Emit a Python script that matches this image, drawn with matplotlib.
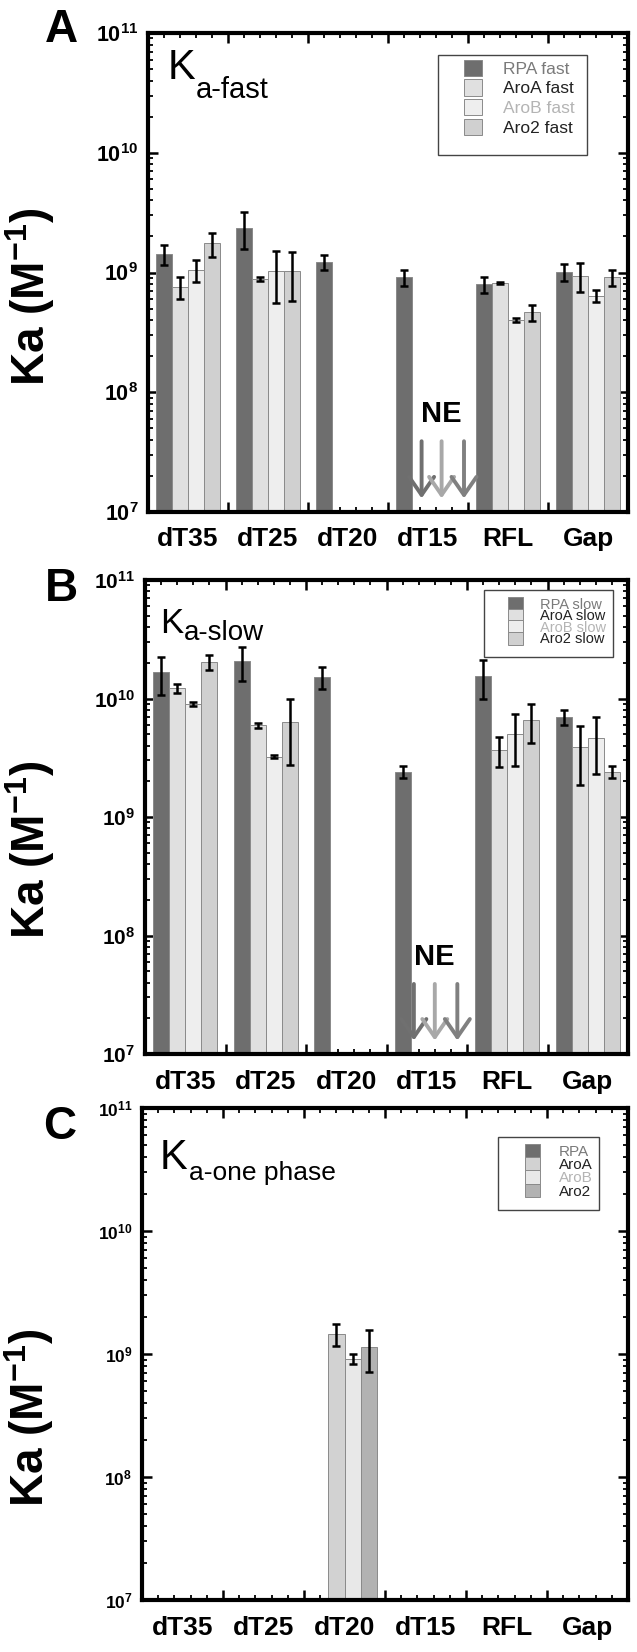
import numpy as np
import matplotlib
matplotlib.use('Agg')
import matplotlib.pyplot as plt
from matplotlib import ticker
from matplotlib.patches import Rectangle

plt.rcParams['font.family'] = ['Liberation Sans', 'DejaVu Sans']
plt.rcParams['mathtext.fontset'] = 'custom'
plt.rcParams['mathtext.rm'] = 'Liberation Sans'
plt.rcParams['mathtext.bf'] = 'Liberation Sans:bold'
plt.rcParams['mathtext.it'] = 'Liberation Sans:italic'

nan = np.nan
groups = ['dT35', 'dT25', 'dT20', 'dT15', 'RFL', 'Gap']
decades = [1e7, 1e8, 1e9, 1e10, 1e11]
decade_labels = [r'$\mathbf{10^{7}}$', r'$\mathbf{10^{8}}$', r'$\mathbf{10^{9}}$',
                 r'$\mathbf{10^{10}}$', r'$\mathbf{10^{11}}$']

# panel A (x 1e9 M^-1)
rpa_fast = [1.43, 2.37, 1.22, 0.91, 0.80, 1.01]
rpa_fast_err = [0.27, 0.80, 0.17, 0.14, 0.12, 0.16]
aroa_fast = [0.76, 0.88, nan, nan, 0.82, 0.94]
aroa_fast_err = [0.16, 0.03, nan, nan, 0.02, 0.25]
arob_fast = [1.05, 1.03, nan, nan, 0.40, 0.64]
arob_fast_err = [0.21, 0.47, nan, nan, 0.015, 0.07]
aro2_fast = [1.75, 1.03, nan, nan, 0.465, 0.91]
aro2_fast_err = [0.40, 0.45, nan, nan, 0.075, 0.14]

# panel B (x 1e10 M^-1)
rpa_slow = [1.66, 2.06, 1.52, 0.242, 1.55, 0.698]
rpa_slow_err = [0.58, 0.65, 0.31, 0.028, 0.55, 0.098]
aroa_slow = [1.22, 0.593, nan, nan, 0.368, 0.387]
aroa_slow_err = [0.10, 0.03, nan, nan, 0.103, 0.20]
arob_slow = [0.898, 0.323, nan, nan, 0.505, 0.465]
arob_slow_err = [0.03, 0.008, nan, nan, 0.235, 0.235]
aro2_slow = [2.03, 0.633, nan, nan, 0.658, 0.242]
aro2_slow_err = [0.29, 0.36, nan, nan, 0.24, 0.028]

# panel C (x 1e9 M^-1)
rpa_one = [nan, nan, nan, nan, nan, nan]
rpa_one_err = [nan, nan, nan, nan, nan, nan]
aroa_one = [nan, nan, 1.46, nan, nan, nan]
aroa_one_err = [nan, nan, 0.29, nan, nan, nan]
arob_one = [nan, nan, 0.916, nan, nan, nan]
arob_one_err = [nan, nan, 0.08, nan, nan, nan]
aro2_one = [nan, nan, 1.14, nan, nan, nan]
aro2_one_err = [nan, nan, 0.42, nan, nan, nan]

labels_fast = ['RPA fast', 'AroA fast', 'AroB fast', 'Aro2 fast']
labels_slow = ['RPA slow', 'AroA slow', 'AroB slow', 'Aro2 slow']
labels_one = ['RPA', 'AroA', 'AroB', 'Aro2']

# NE arrows (not estimable) at dT15
ne_arrow_tail = 3.9e7
ne_arrow_tip = 1.3e7
ne_text_y = 6.6e7

colors_ab = ['#6e6e6e', '#e0e0e0', '#eeeeee', '#d0d0d0']
colors_c = ['#6e6e6e', '#d2d2d2', '#e8e8e8', '#b2b2b2']
label_colors = ['#7a7a7a', '#222222', '#b4b4b4', '#222222']
arrow_colors = ['#707070', '#a8a8a8', '#808080']


def style_axes(ax, tick_fs, xlab_y):
    ax.set_yscale('log')
    ax.set_ylim(1e7, 1e11)
    ax.set_xlim(0, 6)
    ax.set_yticks(decades)
    ax.set_yticklabels(decade_labels)
    ax.yaxis.set_minor_locator(ticker.LogLocator(base=10, subs=np.arange(2, 10), numticks=20))
    ax.yaxis.set_minor_formatter(ticker.NullFormatter())
    ax.set_xticks(range(7))
    ax.set_xticklabels([])
    ax.xaxis.set_minor_locator(ticker.MultipleLocator(0.2))
    ax.tick_params(which='both', direction='in', top=True, right=True)
    ax.tick_params(which='major', length=7, width=1.8, labelsize=tick_fs, pad=7)
    ax.tick_params(which='minor', length=3.5, width=1.3)
    for s in ax.spines.values():
        s.set_linewidth(3)
    for i, g in enumerate(groups):
        ax.text(i + 0.5, xlab_y, g, transform=ax.get_xaxis_transform(),
                ha='center', va='center', fontsize=19, fontweight='bold')


def draw_bars(ax, series, errors, scale, colors):
    x = np.arange(len(groups))
    handles = []
    for k, (vals, errs) in enumerate(zip(series, errors)):
        vals = np.array(vals) * scale
        errs = np.array(errs) * scale
        pos = x + 0.2 + 0.2 * k
        b = ax.bar(pos, vals, width=0.2, color=colors[k], edgecolor='#8a8a8a',
                   linewidth=0.7, zorder=2)
        handles.append(b)
        ok = ~np.isnan(vals)
        if ok.any():
            ax.errorbar(pos[ok], vals[ok], yerr=errs[ok], fmt='none', ecolor='black',
                        elinewidth=1.8, capsize=3, capthick=1.8, zorder=3)
    return handles


def add_legend(ax, handles, labels, box, anchor, fs, spacing, hsize):
    x0, y0, x1, y1 = box
    ax.add_patch(Rectangle((x0, y0), x1 - x0, y1 - y0, transform=ax.transAxes,
                           facecolor='white', edgecolor='#444444', linewidth=1.0, zorder=4))
    leg = ax.legend(handles, labels, loc='upper left', bbox_to_anchor=anchor,
                    frameon=False, fontsize=fs, handlelength=hsize, handleheight=hsize,
                    labelspacing=spacing, handletextpad=1.2, borderpad=0,
                    borderaxespad=0)
    leg.set_zorder(5)
    for t, c in zip(leg.get_texts(), label_colors):
        t.set_color(c)


def k_label(ax, pos, sub, kfs, sfs, dy):
    kt = ax.text(pos[0], pos[1], 'K', transform=ax.transAxes, fontsize=kfs,
                 ha='left', va='top', zorder=5)
    ax.annotate(sub, xy=(1, 0), xycoords=kt, xytext=(1, dy), textcoords='offset pixels',
                fontsize=sfs, ha='left', va='baseline', zorder=5)


def ne_marks(ax, xs, xtext):
    ax.text(xtext, ne_text_y, 'NE', ha='center', va='center', fontsize=21,
            fontweight='bold', zorder=5)
    for xa, c in zip(xs, arrow_colors):
        ax.annotate('', xy=(xa, ne_arrow_tip), xytext=(xa, ne_arrow_tail),
                    arrowprops=dict(arrowstyle='->, head_length=0.65, head_width=0.45',
                                    color=c, lw=2.8, mutation_scale=20,
                                    shrinkA=0, shrinkB=0), zorder=5)


fig = plt.figure(figsize=(6.37, 16.52), dpi=100)
W, H = 637.0, 1652.0
axA = fig.add_axes([148 / W, 1 - 512 / H, (628 - 148) / W, (512 - 33) / H])
axB = fig.add_axes([145 / W, 1 - 1054 / H, (628 - 145) / W, (1054 - 580) / H])
axC = fig.add_axes([142 / W, 1 - 1600 / H, (628 - 142) / W, (1600 - 1108) / H])

# A
style_axes(axA, 15.5, -0.056)
hA = draw_bars(axA, [rpa_fast, aroa_fast, arob_fast, aro2_fast],
               [rpa_fast_err, aroa_fast_err, arob_fast_err, aro2_fast_err], 1e9, colors_ab)
add_legend(axA, hA, labels_fast, (0.604, 0.745, 0.915, 0.954), (0.658, 0.944), 12.5, 0.15, 1.05)
k_label(axA, (0.04, 0.969), 'a-fast', 30, 21, -10)
ne_marks(axA, [3.42, 3.67, 3.95], 3.67)
axA.set_ylabel(r'Ka (M$^{\mathbf{-1}}$)', fontsize=33, fontweight='bold')
axA.yaxis.set_label_coords(-0.19, 0.45)

# B
style_axes(axB, 15, -0.06)
hB = draw_bars(axB, [rpa_slow, aroa_slow, arob_slow, aro2_slow],
               [rpa_slow_err, aroa_slow_err, arob_slow_err, aro2_slow_err], 1e10, colors_ab)
add_legend(axB, hB, labels_slow, (0.702, 0.838, 0.969, 0.979), (0.752, 0.964), 10.5, -0.2, 1.0)
k_label(axB, (0.031, 0.943), 'a-slow', 25, 20, 0)
ne_marks(axB, [3.34, 3.60, 3.88], 3.60)
axB.set_ylabel(r'Ka (M$^{\mathbf{-1}}$)', fontsize=33, fontweight='bold')
axB.yaxis.set_label_coords(-0.182, 0.43)

# C
style_axes(axC, 12.5, -0.056)
hC = draw_bars(axC, [rpa_one, aroa_one, arob_one, aro2_one],
               [rpa_one_err, aroa_one_err, arob_one_err, aro2_one_err], 1e9, colors_c)
add_legend(axC, hC, labels_one, (0.733, 0.793, 0.940, 0.941), (0.788, 0.927), 11, -0.12, 1.0)
k_label(axC, (0.037, 0.939), 'a-one phase', 30, 19, -2)
axC.set_ylabel(r'Ka (M$^{\mathbf{-1}}$)', fontsize=33, fontweight='bold')
axC.yaxis.set_label_coords(-0.176, 0.37)

for letter, (px, py) in zip('ABC', [(61, 30), (61, 589), (60, 1127)]):
    fig.text(px / W, 1 - py / H, letter, fontsize=33, fontweight='bold',
             ha='center', va='center')

fig.savefig('out.png', dpi=100)
